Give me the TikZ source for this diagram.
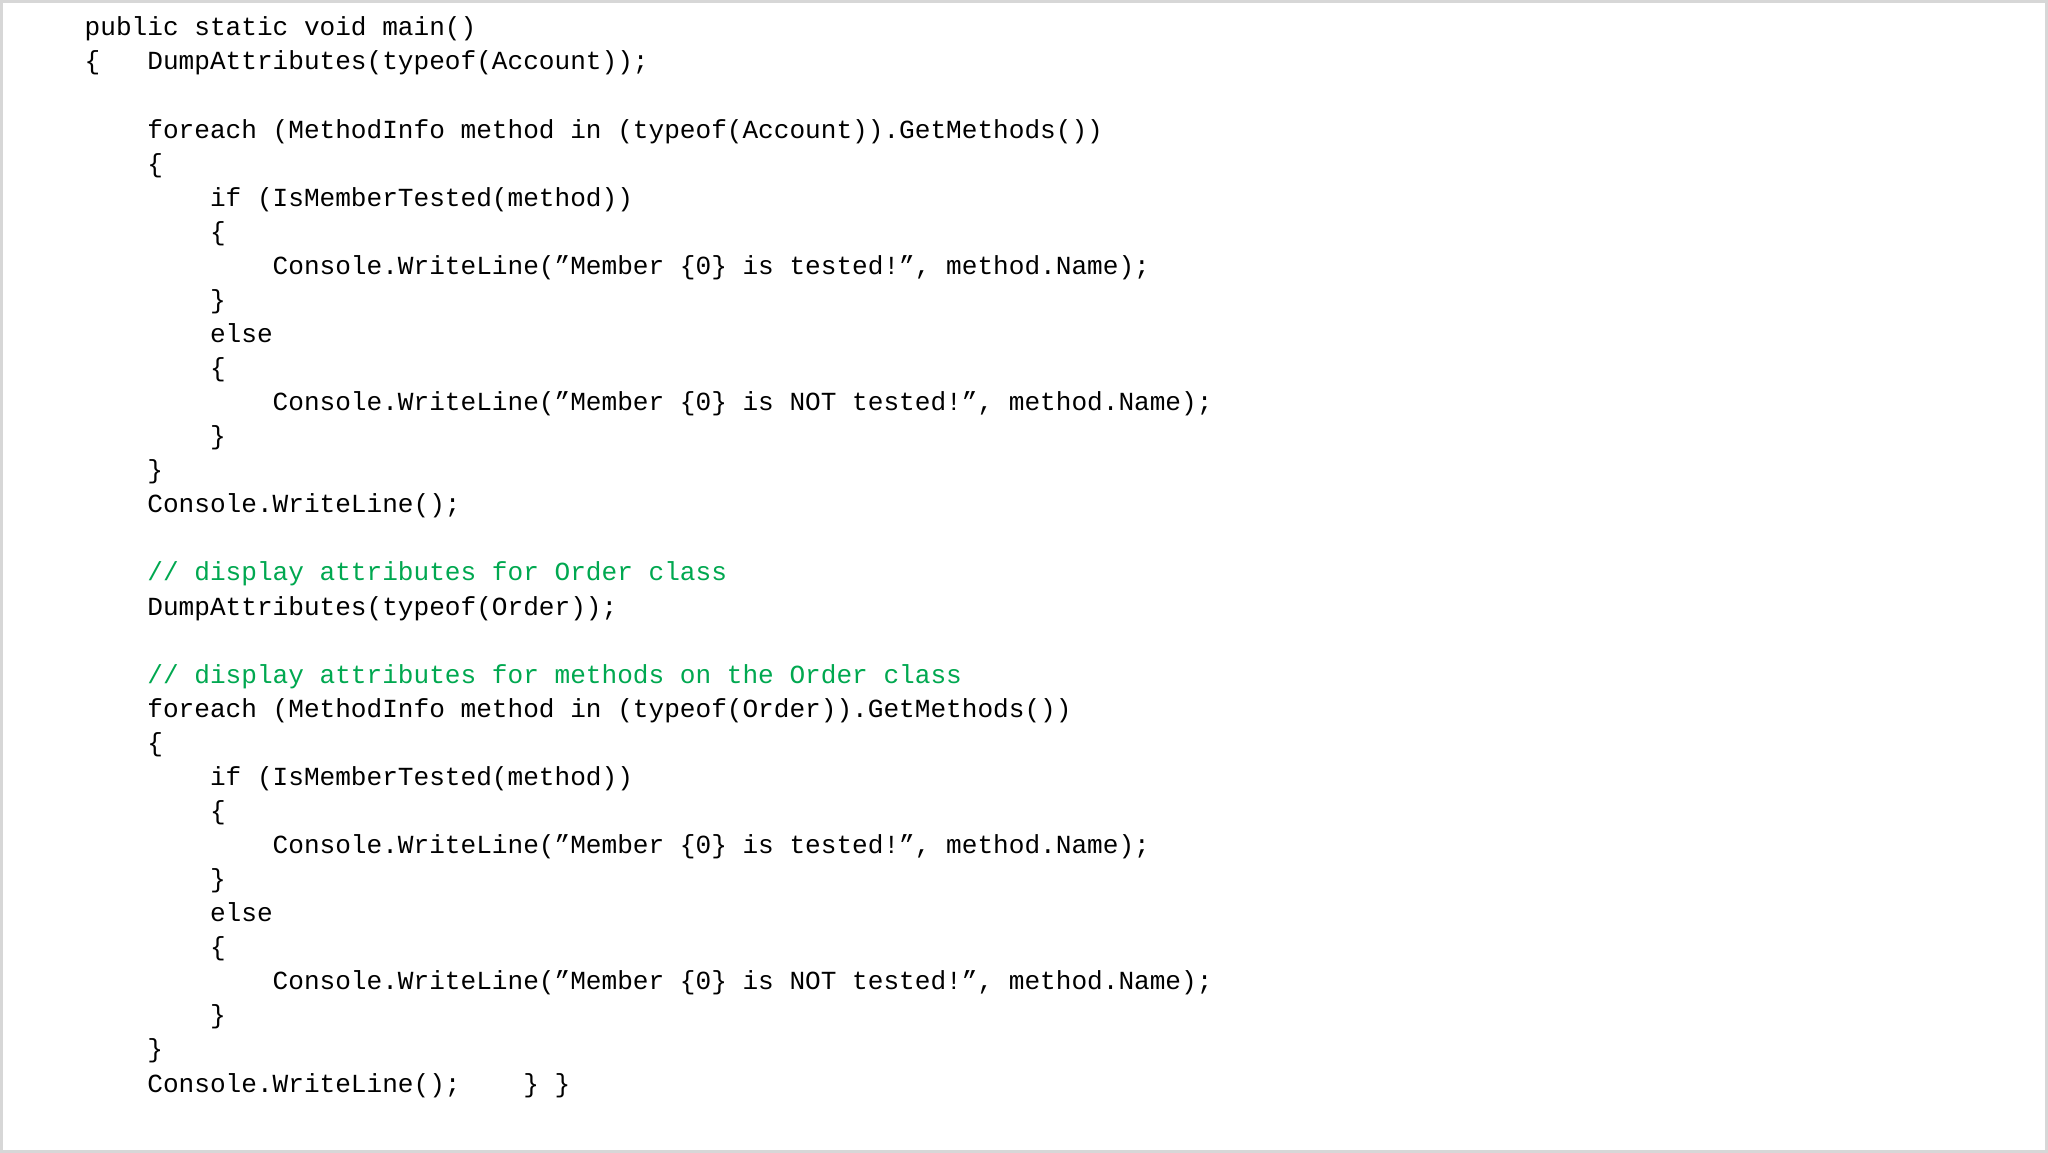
\documentclass[tikz,border=0pt]{standalone}
\usepackage{fontspec}
\setmainfont{Liberation Mono}
\definecolor{cmt}{RGB}{0,168,80}
\definecolor{frame}{RGB}{215,215,215}
\tikzset{ln/.style={anchor=base west,inner sep=0pt,font=\fontsize{10}{12}\selectfont},
cmtline/.style={ln,text=cmt}}
\begin{document}
\begin{tikzpicture}[x=0.5pt,y=-0.5pt]
\fill[white] (0,0) rectangle (1568,882);
\draw[frame,line width=1pt] (0.5,0.5) rectangle (1567.5,881.5);
\def\L#1#2#3{\node[ln] (l#1) at ({64+48*#2},{27+26.1*#1}) {#3};}
\def\C#1#2#3{\node[cmtline] (l#1) at ({64+48*#2},{27+26.1*#1}) {#3};}
\L{0}{0}{public static void main()}
\L{1}{0}{\{\ \ \ DumpAttributes(typeof(Account));}
\L{3}{1}{foreach (MethodInfo method in (typeof(Account)).GetMethods())}
\L{4}{1}{\{}
\L{5}{2}{if (IsMemberTested(method))}
\L{6}{2}{\{}
\L{7}{3}{Console.WriteLine("Member \{0\} is tested!", method.Name);}
\L{8}{2}{\}}
\L{9}{2}{else}
\L{10}{2}{\{}
\L{11}{3}{Console.WriteLine("Member \{0\} is NOT tested!", method.Name);}
\L{12}{2}{\}}
\L{13}{1}{\}}
\L{14}{1}{Console.WriteLine();}
\C{16}{1}{// display attributes for Order class}
\L{17}{1}{DumpAttributes(typeof(Order));}
\C{19}{1}{// display attributes for methods on the Order class}
\L{20}{1}{foreach (MethodInfo method in (typeof(Order)).GetMethods())}
\L{21}{1}{\{}
\L{22}{2}{if (IsMemberTested(method))}
\L{23}{2}{\{}
\L{24}{3}{Console.WriteLine("Member \{0\} is tested!", method.Name);}
\L{25}{2}{\}}
\L{26}{2}{else}
\L{27}{2}{\{}
\L{28}{3}{Console.WriteLine("Member \{0\} is NOT tested!", method.Name);}
\L{29}{2}{\}}
\L{30}{1}{\}}
\L{31}{1}{Console.WriteLine();\ \ \ \ \} \}}
\end{tikzpicture}
\end{document}
